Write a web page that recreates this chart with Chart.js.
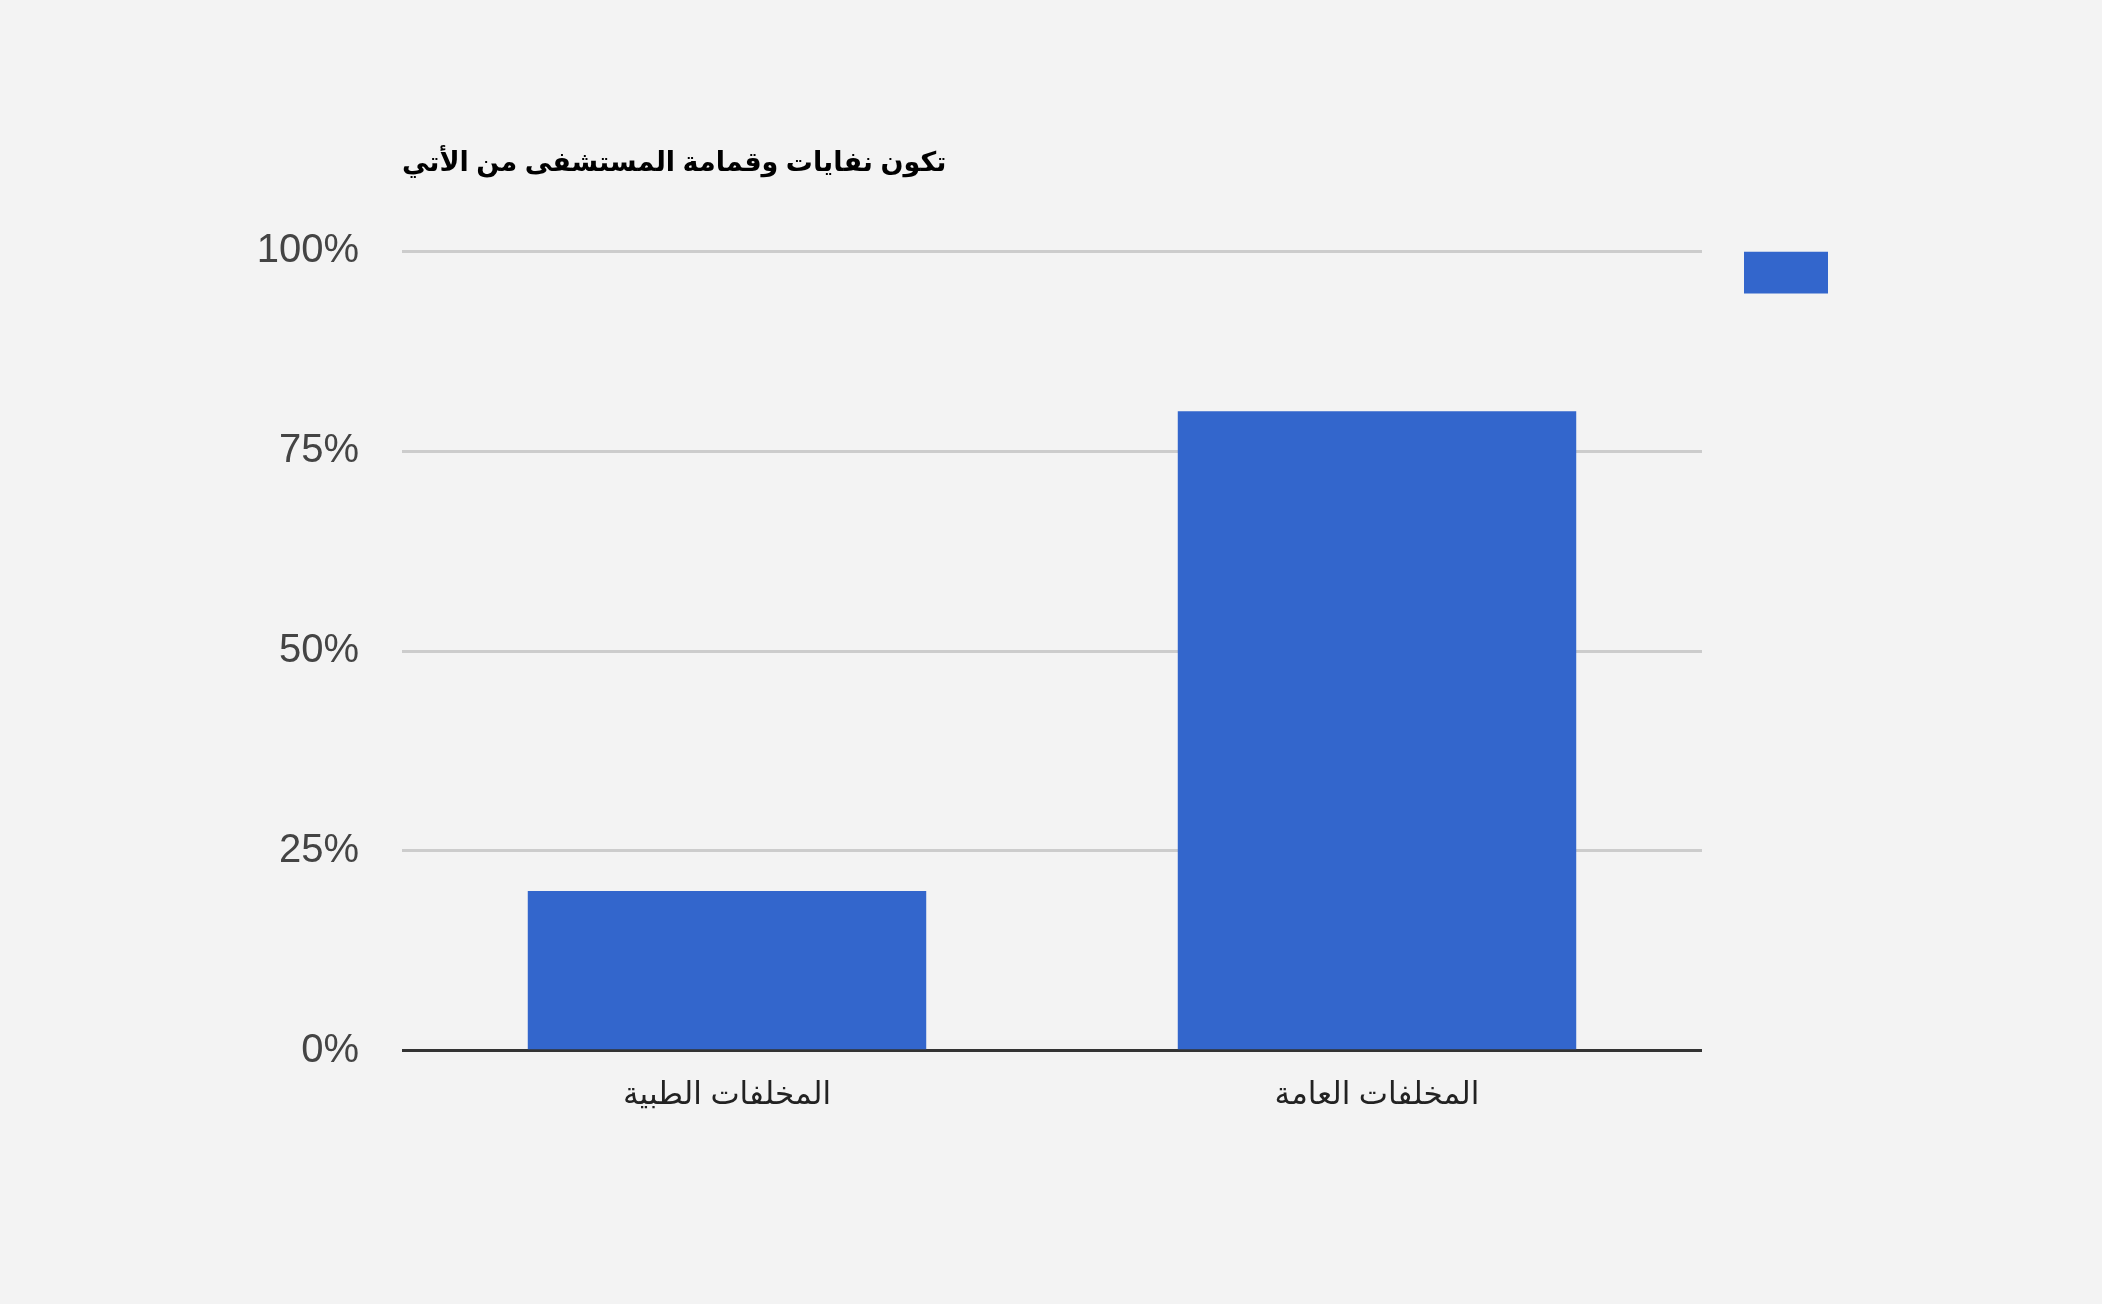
<!DOCTYPE html>
<html>
<head>
<meta charset="utf-8">
<script src="https://cdn.jsdelivr.net/npm/chart.js@4"></script>
<style>
  html, body { margin: 0; padding: 0; background: #f3f3f3; }
  #wrap { width: 2102px; height: 1304px; position: relative; }
</style>
</head>
<body>
<div id="wrap"><canvas id="chart"></canvas></div>
<script>
const categories = ['المخلفات الطبية', 'المخلفات العامة'];
const values = [20, 80];
const yTicks = [0, 25, 50, 75, 100];
const chartTitle = 'تكون نفايات وقمامة المستشفى من الأتي';

const blue = '#3366cc';
const arabicFont = "Arial, 'Liberation Sans', 'DejaVu Sans', sans-serif";

const ctx = document.getElementById('chart').getContext('2d');
new Chart(ctx, {
    type: 'bar',
    data: {
        labels: categories,
        datasets: [{
            label: '',
            data: values,
            backgroundColor: blue,
            borderWidth: 0,
            barPercentage: 0.613,
            categoryPercentage: 1
        }]
    },
    options: {
        responsive: true,
        maintainAspectRatio: false,
        animation: false,
        devicePixelRatio: 1,
        layout: { padding: { left: 0, right: 258, top: 0, bottom: 164 } },
        plugins: {
            title: {
                display: true,
                text: chartTitle,
                align: 'start',
                fullSize: false,
                color: '#000',
                font: { family: arabicFont, size: 27, weight: 'bold' },
                padding: { top: 147, bottom: 72 }
            },
            legend: {
                display: true,
                position: 'right',
                align: 'start',
                fullSize: false,
                labels: {
                    boxWidth: 84,
                    boxHeight: 42,
                    padding: 0,
                    font: { size: 12 }
                }
            },
            tooltip: { enabled: false }
        },
        scales: {
            x: {
                grid: { display: false, drawTicks: false },
                border: { display: false },
                ticks: {
                    color: '#222',
                    padding: 26,
                    font: { family: arabicFont, size: 31 }
                }
            },
            y: {
                min: 0,
                max: 100,
                afterBuildTicks: function (axis) {
                    axis.ticks = yTicks.map(v => ({ value: v }));
                },
                afterFit: function (axis) { axis.width = 402; },
                grid: {
                    drawTicks: false,
                    color: c => (c.tick && c.tick.value === 0) ? '#333' : '#cccccc',
                    lineWidth: 3
                },
                border: { display: false },
                ticks: {
                    color: '#444',
                    padding: 43,
                    font: { family: "Arial, 'Liberation Sans', sans-serif", size: 40 },
                    callback: v => v + '%'
                }
            },
            gap: {
                type: 'linear',
                position: 'right',
                display: true,
                afterFit: function (axis) { axis.width = 42; },
                grid: { display: false },
                border: { display: false },
                ticks: { display: false }
            }
        }
    }
});
</script>
</body>
</html>
